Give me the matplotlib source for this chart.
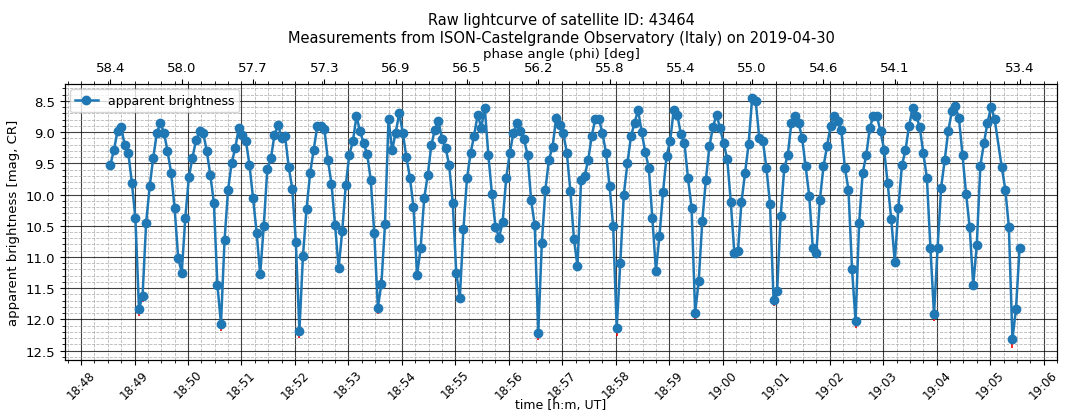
import numpy as np
import matplotlib
matplotlib.use("Agg")
import matplotlib.pyplot as plt
import matplotlib.dates as mdates
from matplotlib.ticker import MultipleLocator, FixedLocator

plt.rcParams['font.family'] = ['DejaVu Sans']
plt.rcParams['font.size'] = 9.5

SAT_ID = "43464"
OBSERVATORY = "ISON-Castelgrande Observatory (Italy)"
OBS_DATE = "2019-04-30"
START = np.datetime64("2019-04-30T18:48:00")

# ---- data ----
# sample times, seconds after 18:48:00 UT
t_sec = [
    33, 37, 41, 45, 49, 53, 57, 61, 65, 69, 73, 77, 81, 85, 89,
    93, 97, 101, 105, 109, 113, 117, 121, 125, 129, 133, 137, 141, 145, 149,
    153, 157, 161, 165, 169, 173, 177, 181, 185, 189, 193, 197, 201, 205, 209,
    213, 217, 221, 225, 229, 233, 237, 241, 245, 249, 253, 257, 261, 265, 269,
    273, 277, 281, 285, 289, 293, 297, 301, 305, 309, 313, 317, 321, 325, 329,
    333, 337, 341, 345, 349, 353, 357, 361, 365, 369, 373, 377, 381, 385, 389,
    393, 397, 401, 405, 409, 413, 417, 421, 425, 429, 433, 437, 441, 445, 449,
    453, 457, 461, 465, 469, 473, 477, 481, 485, 489, 493, 497, 501, 505, 509,
    513, 517, 521, 525, 529, 533, 537, 541, 545, 549, 553, 557, 561, 565, 569,
    573, 577, 581, 585, 589, 593, 597, 601, 605, 609, 613, 617, 621, 625, 629,
    633, 637, 641, 645, 649, 653, 657, 661, 665, 669, 673, 677, 681, 685, 689,
    693, 697, 701, 705, 709, 713, 717, 721, 725, 729, 733, 737, 741, 745, 749,
    753, 757, 761, 765, 769, 773, 777, 781, 785, 789, 793, 797, 801, 805, 809,
    813, 817, 821, 825, 829, 833, 837, 841, 845, 849, 853, 857, 861, 865, 869,
    873, 877, 881, 885, 889, 893, 897, 901, 905, 909, 913, 917, 921, 925, 929,
    933, 937, 941, 945, 949, 953, 957, 961, 965, 969, 973, 977, 981, 985, 989,
    993, 997, 1001, 1005, 1009, 1013, 1017, 1021, 1025,
    1033, 1037, 1041, 1045, 1049, 1053,
]

# apparent brightness [mag]
mag = [
    9.52, 9.28, 8.98, 8.92, 9.21, 9.33, 9.81, 10.38, 11.83, 11.63,
    10.46, 9.87, 9.41, 9.02, 8.85, 9.01, 9.30, 9.65, 10.22, 11.02,
    11.25, 10.37, 9.72, 9.41, 9.13, 8.99, 9.01, 9.30, 9.68, 10.13,
    11.45, 12.07, 10.73, 9.92, 9.49, 9.26, 8.93, 9.05, 9.14, 9.53,
    10.06, 10.61, 11.28, 10.50, 9.59, 9.42, 9.05, 8.88, 9.09, 9.07,
    9.56, 9.91, 10.76, 12.18, 10.98, 10.23, 9.66, 9.28, 8.91, 8.90,
    8.95, 9.45, 9.83, 10.49, 11.18, 10.59, 9.85, 9.36, 9.15, 8.75,
    8.98, 9.18, 9.35, 9.76, 10.62, 11.81, 11.43, 10.48, 8.79, 9.29,
    9.01, 8.70, 9.01, 9.40, 9.73, 10.20, 11.29, 10.86, 10.06, 9.69,
    9.21, 8.96, 8.82, 9.11, 9.25, 9.53, 10.13, 11.26, 11.65, 10.56,
    9.74, 9.34, 9.06, 8.72, 8.93, 8.62, 9.37, 9.99, 10.52, 10.69,
    10.44, 9.74, 9.34, 9.02, 8.85, 8.99, 9.11, 9.37, 10.09, 10.49,
    12.21, 10.77, 9.92, 9.44, 9.24, 8.78, 8.89, 9.01, 9.33, 9.94,
    10.71, 11.15, 9.77, 9.70, 9.45, 9.06, 8.79, 8.79, 9.02, 9.33,
    9.87, 10.50, 12.14, 11.10, 10.00, 9.50, 9.07, 8.85, 8.65, 9.00,
    9.32, 9.57, 10.38, 11.22, 10.66, 9.96, 9.38, 9.14, 8.64, 8.73,
    9.03, 9.18, 9.74, 10.21, 11.89, 11.39, 10.43, 9.77, 9.23, 8.92,
    8.72, 8.94, 9.18, 9.43, 10.12, 10.94, 10.91, 10.12, 9.65, 9.19,
    8.45, 8.51, 9.10, 9.14, 9.58, 10.15, 11.69, 11.54, 10.34, 9.58,
    9.36, 8.85, 8.75, 8.85, 9.09, 9.55, 10.02, 10.85, 10.93, 10.08,
    9.55, 9.22, 8.90, 8.74, 8.83, 8.97, 9.57, 9.92, 11.19, 12.03,
    10.46, 9.65, 9.37, 8.93, 8.74, 8.75, 8.99, 9.28, 9.82, 10.39,
    11.08, 10.22, 9.53, 9.29, 8.90, 8.62, 8.74, 8.92, 9.34, 9.73,
    10.86, 11.92, 10.86, 9.89, 9.45, 8.98, 8.67, 8.59, 8.78, 9.37,
    9.99, 10.52, 11.45, 10.81, 9.54, 9.18, 8.85, 8.60, 8.79, 9.56,
    9.92, 10.52, 12.32, 11.83, 10.86,
]

# error bars that stick out of the markers (sample index, error in mag)
err_idx = [8, 9, 31, 42, 53, 64, 75, 76, 86, 98, 120, 131, 142, 153,
           164, 165, 186, 187, 208, 209, 231, 252, 253]
err_val = [0.12, 0.09, 0.12, 0.07, 0.12, 0.07, 0.10, 0.09, 0.07, 0.07,
           0.12, 0.07, 0.12, 0.07, 0.11, 0.08, 0.09, 0.08, 0.07, 0.11,
           0.10, 0.13, 0.10]

# phase angle labels on the top axis (sample index, phi in deg)
phase_idx = [0, 20, 40, 60, 80, 100, 120, 140, 160, 180, 200, 220, 254]
phase_deg = [58.4, 58.0, 57.7, 57.3, 56.9, 56.5, 56.2, 55.8, 55.4, 55.0,
             54.6, 54.1, 53.4]

# ---- plot ----
times = START + np.array(t_sec) * np.timedelta64(1, 's')
mag = np.array(mag)
yerr = np.zeros(len(mag))
yerr[err_idx] = err_val

W, H = 1065, 414
fig = plt.figure(figsize=(W / 100, H / 100), dpi=100)
ax = fig.add_axes([65 / W, 1 - 361 / H, (1057 - 65) / W, (361 - 85) / H])

ax.errorbar(times, mag, yerr=yerr, fmt='none', ecolor='red', elinewidth=1.2, zorder=2)
ax.plot(times, mag, 'o-', color='#1f77b4', markersize=6, linewidth=1.8,
        label='apparent brightness', zorder=3)

ax.set_xlim(START - np.timedelta64(18, 's'), START + np.timedelta64(1095, 's'))
ax.set_ylim(12.65, 8.23)

ax.xaxis.set_major_locator(mdates.MinuteLocator())
ax.xaxis.set_minor_locator(mdates.SecondLocator(bysecond=[15, 30, 45]))
ax.xaxis.set_major_formatter(mdates.DateFormatter('%H:%M'))
ax.yaxis.set_major_locator(MultipleLocator(0.5))
ax.yaxis.set_minor_locator(MultipleLocator(0.1))
ax.tick_params(axis='x', labelsize=8.5, pad=2)
plt.setp(ax.get_xticklabels(), rotation=45, ha='center')

ax.grid(which='major', color='black', linestyle='-', linewidth=0.8, alpha=0.75)
ax.grid(which='minor', color='0.6', linestyle='--', linewidth=0.6, alpha=0.7)

ax.set_xlabel('time [h:m, UT]', fontsize=9)
ax.xaxis.set_label_coords(0.5, -0.138)
ax.set_ylabel('apparent brightness [mag, CR]', fontsize=9.5)
ax.legend(loc='upper left', fontsize=9, borderaxespad=0.4, handlelength=1.8)

# top axis with phase angle
ax2 = ax.twiny()
ax2.set_xlim(ax.get_xlim())
ax2.xaxis.set_major_locator(FixedLocator(mdates.date2num(times[phase_idx])))
ax2.set_xticklabels(['%.1f' % p for p in phase_deg])
ax2.xaxis.set_minor_locator(mdates.SecondLocator(bysecond=[0, 15, 30, 45]))
ax2.set_xlabel('phase angle (phi) [deg]', fontsize=9.5, labelpad=3)

ax.set_title('Raw lightcurve of satellite ID: %s\nMeasurements from %s on %s'
             % (SAT_ID, OBSERVATORY, OBS_DATE), fontsize=10.5, pad=4)

fig.savefig('out.png', dpi=100)
